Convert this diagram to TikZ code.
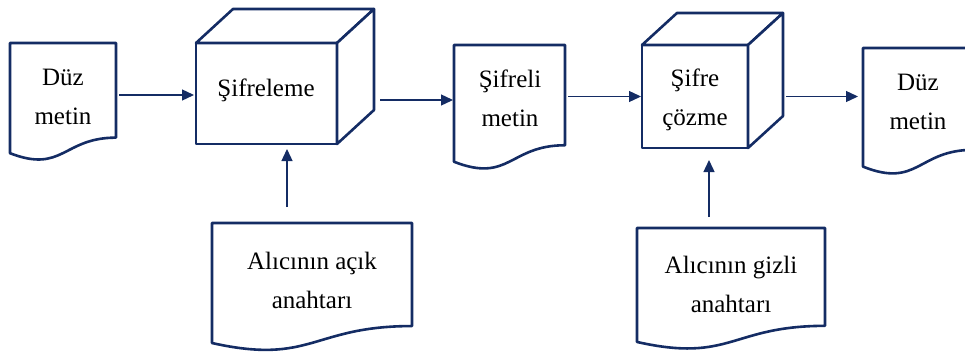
\documentclass[tikz,border=0pt]{standalone}
\usepackage{fontspec}
\setmainfont{Liberation Serif}
\usetikzlibrary{arrows.meta,calc}
\definecolor{navy}{HTML}{142C64}
\newcommand\docshape[4]{%
  \draw[outline] (#1,#2) -- ({#1+#3},#2) -- ({#1+#3},{#2+0.802*#4})
    .. controls ({#1+0.5*#3},{#2+0.802*#4}) and ({#1+0.5*#3},{#2+1.1075*#4}) .. (#1,{#2+0.934*#4}) -- cycle;}
\newcommand\cubeshape[6]{%
  \draw[outline] (#1,#2) rectangle (#3,#4);
  \draw[outline] (#1,#2) -- ({#1+#5},{#2-#6}) -- ({#3+#5},{#2-#6}) -- (#3,#2) -- cycle;
  \draw[outline] (#3,#2) -- ({#3+#5},{#2-#6}) -- ({#3+#5},{#4-#6}) -- (#3,#4) -- cycle;}
\begin{document}
\begin{tikzpicture}[x=1pt,y=-1pt,
  outline/.style={draw=navy,line width=2.6pt,line join=round,fill=white},
  frame/.style={draw=none,inner sep=0pt,outer sep=0pt},
  txt/.style={align=center,font=\fontsize{25}{39}\selectfont,inner sep=0pt,text=black},
  arr/.style={draw=navy,line width=1.3pt,-{Triangle[length=12pt,width=11pt]}}]
\useasboundingbox (0,0) rectangle (965,353);
\clip (0,0) rectangle (965,353);
% frames
\node[frame,minimum width=106pt,minimum height=104pt] (d1) at (63,95) {};
\node[frame,minimum width=141pt,minimum height=101pt] (c1) at (266.5,93.5) {};
\node[frame,minimum width=111pt,minimum height=110pt] (d2) at (509.5,100) {};
\node[frame,minimum width=106pt,minimum height=103pt] (c2) at (695,96.5) {};
\node[frame,minimum width=110pt,minimum height=100pt] (d3) at (918,97) {};
\node[frame,minimum width=200pt,minimum height=120pt] (k1) at (312,283) {};
\node[frame,minimum width=188pt,minimum height=114pt] (k2) at (731,285) {};
% shapes
\docshape{10}{43}{106}{118}
\docshape{454}{45}{111}{125}
\docshape{863}{48}{110}{127}
\docshape{212}{223}{200}{128.5}
\docshape{637}{228}{188}{122}
\cubeshape{196}{43}{337}{144}{37}{34}
\cubeshape{642}{45}{748}{148}{35}{32}
% texts
\node[txt] (t1) at (63,97) {Düz\\metin};
\node[txt] (t2) at (266,90) {Şifreleme};
\node[txt] (t3) at (510,98) {Şifreli\\metin};
\node[txt] (t4) at (695,100) {Şifre\\çözme};
\node[txt] (t5) at (918,102) {Düz\\metin};
\node[txt] (t6) at (312,280) {Alıcının açık\\anahtarı};
\node[txt] (t7) at (731,284) {Alıcının gizli\\anahtarı};
% connectors
\draw[arr,shorten >=2pt] ([xshift=3pt]d1.east) -- (d1.east -| c1.west);
\draw[arr,shorten >=1pt] ($(c1.east |- d2.west)+(43,0)$) -- (d2.west);
\draw[arr,shorten >=1pt] ($(d2.east |- c2.west)+(3,0)$) -- (c2.west);
\draw[arr,shorten >=5pt] ($(c2.east)+(38,0)$) -- (c2.east -| d3.west);
\draw[arr] ($(c1.south |- k1.north)+(20.5,-16)$) -- ($(c1.south)+(20.5,5)$);
\draw[arr] ($(c2.south |- k2.north)+(14,-11)$) -- ($(c2.south)+(14,12)$);
\end{tikzpicture}
\end{document}
